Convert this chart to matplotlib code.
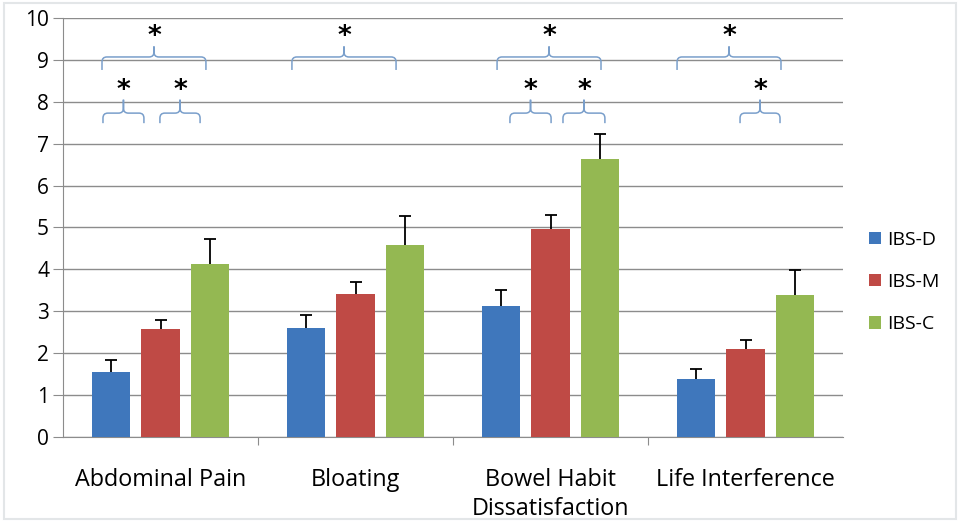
import numpy as np
import matplotlib
matplotlib.use("Agg")
import matplotlib.pyplot as plt
from matplotlib.path import Path
from matplotlib.patches import PathPatch, Rectangle

plt.rcParams['font.family'] = ['Open Sans', 'DejaVu Sans']

# data
categories = ["Abdominal Pain", "Bloating", "Bowel Habit\nDissatisfaction", "Life Interference"]
series = ["IBS-D", "IBS-M", "IBS-C"]
colors = ["#3F77BC", "#BF4A45", "#94B852"]
ibs_d = [1.55, 2.59, 3.12, 1.38]
ibs_m = [2.58, 3.41, 4.97, 2.10]
ibs_c = [4.12, 4.58, 6.64, 3.40]
err_d = [0.29, 0.31, 0.40, 0.24]
err_m = [0.22, 0.28, 0.32, 0.21]
err_c = [0.61, 0.69, 0.60, 0.58]

# significance braces: (left x, right x) in category units
big_braces = [(-0.300, 0.233), (0.674, 1.208), (1.726, 2.259), (2.649, 3.182)]
small_braces = [(-0.295, -0.085), (-0.003, 0.203), (1.792, 2.003),
                (2.064, 2.279), (2.972, 3.177)]

fig = plt.figure(figsize=(9.6, 5.21), dpi=100)
ax = fig.add_axes([63/960, 1-437/521, 780/960, 419/521])

x = np.arange(len(categories))
w = 0.195
off = 0.256
vals = [ibs_d, ibs_m, ibs_c]
errs = [err_d, err_m, err_c]
for i in range(3):
    xs = x + (i-1)*off
    ax.bar(xs, vals[i], width=w, color=colors[i], label=series[i], zorder=3)
    eb = ax.errorbar(xs, vals[i], yerr=[np.zeros(4), errs[i]], fmt='none',
                     ecolor='black', elinewidth=1.3, capsize=4, capthick=1.3, zorder=4)
    eb[1][0].set_visible(False)   # no lower cap

ax.set_xlim(-0.5, 3.5)
ax.set_ylim(0, 10)
ax.set_yticks(range(0, 11))
ax.yaxis.grid(True, color='#8C8C8C', lw=1)
ax.set_axisbelow(True)
for s in ['top', 'right']:
    ax.spines[s].set_visible(False)
ax.spines['left'].set_color('#8C8C8C')
ax.spines['bottom'].set_color('#8C8C8C')
ax.tick_params(axis='y', length=7, color='#8C8C8C', labelsize=15, pad=3)
ax.set_xticks([0.5, 1.5, 2.5], minor=False)
ax.set_xticklabels([])
ax.tick_params(axis='x', length=6, color='#8C8C8C', direction='out')
ax.set_xticks(x, minor=True)
ax.set_xticklabels(categories, minor=True, fontsize=16.8, linespacing=1.3)
ax.tick_params(axis='x', which='minor', length=0, pad=22)
for lab in ax.get_xticklabels(minor=True):
    lab.set_verticalalignment('top')


def brace(x0, x1, yend, yh, ypk, xm=None):
    if xm is None:
        xm = (x0 + x1) / 2
    rx, ry = 0.025, 0.12
    verts = [(x0, yend), (x0, yh-ry), (x0, yh), (x0+rx, yh),
             (xm-rx, yh), (xm, yh), (xm, yh+ry), (xm, ypk),
             (xm, yh+ry), (xm, yh), (xm+rx, yh),
             (x1-rx, yh), (x1, yh), (x1, yh-ry), (x1, yend)]
    codes = [Path.MOVETO, Path.LINETO, Path.CURVE3, Path.CURVE3,
             Path.LINETO, Path.CURVE3, Path.CURVE3, Path.LINETO,
             Path.LINETO, Path.CURVE3, Path.CURVE3,
             Path.LINETO, Path.CURVE3, Path.CURVE3, Path.LINETO]
    ax.add_patch(PathPatch(Path(verts, codes), fill=False, edgecolor='#7A9FCB',
                           lw=1.1, zorder=5, clip_on=False))
    return xm


for a, b in big_braces:
    m = brace(a, b, 8.76, 9.07, 9.32)
    ax.text(m, 9.55, '*', ha='center', va='center', fontsize=19, color='black',
            family='DejaVu Sans', fontweight='bold')
for a, b in small_braces:
    m = brace(a, b, 7.49, 7.73, 8.05)
    ax.text(m, 8.26, '*', ha='center', va='center', fontsize=19, color='black',
            family='DejaVu Sans', fontweight='bold')

ax.legend(loc='center left', bbox_to_anchor=(869/960, 1-282/521), bbox_transform=fig.transFigure,
          frameon=False, fontsize=14, handlelength=0.6, handleheight=0.6,
          labelspacing=1.25, handletextpad=0.35, borderaxespad=0, borderpad=0)

fig.patches.append(Rectangle((0.004, 0.004), 0.992, 0.99, transform=fig.transFigure,
                             fill=False, edgecolor='#E3E6E8', lw=1.5))

fig.savefig('out.png', dpi=100)
